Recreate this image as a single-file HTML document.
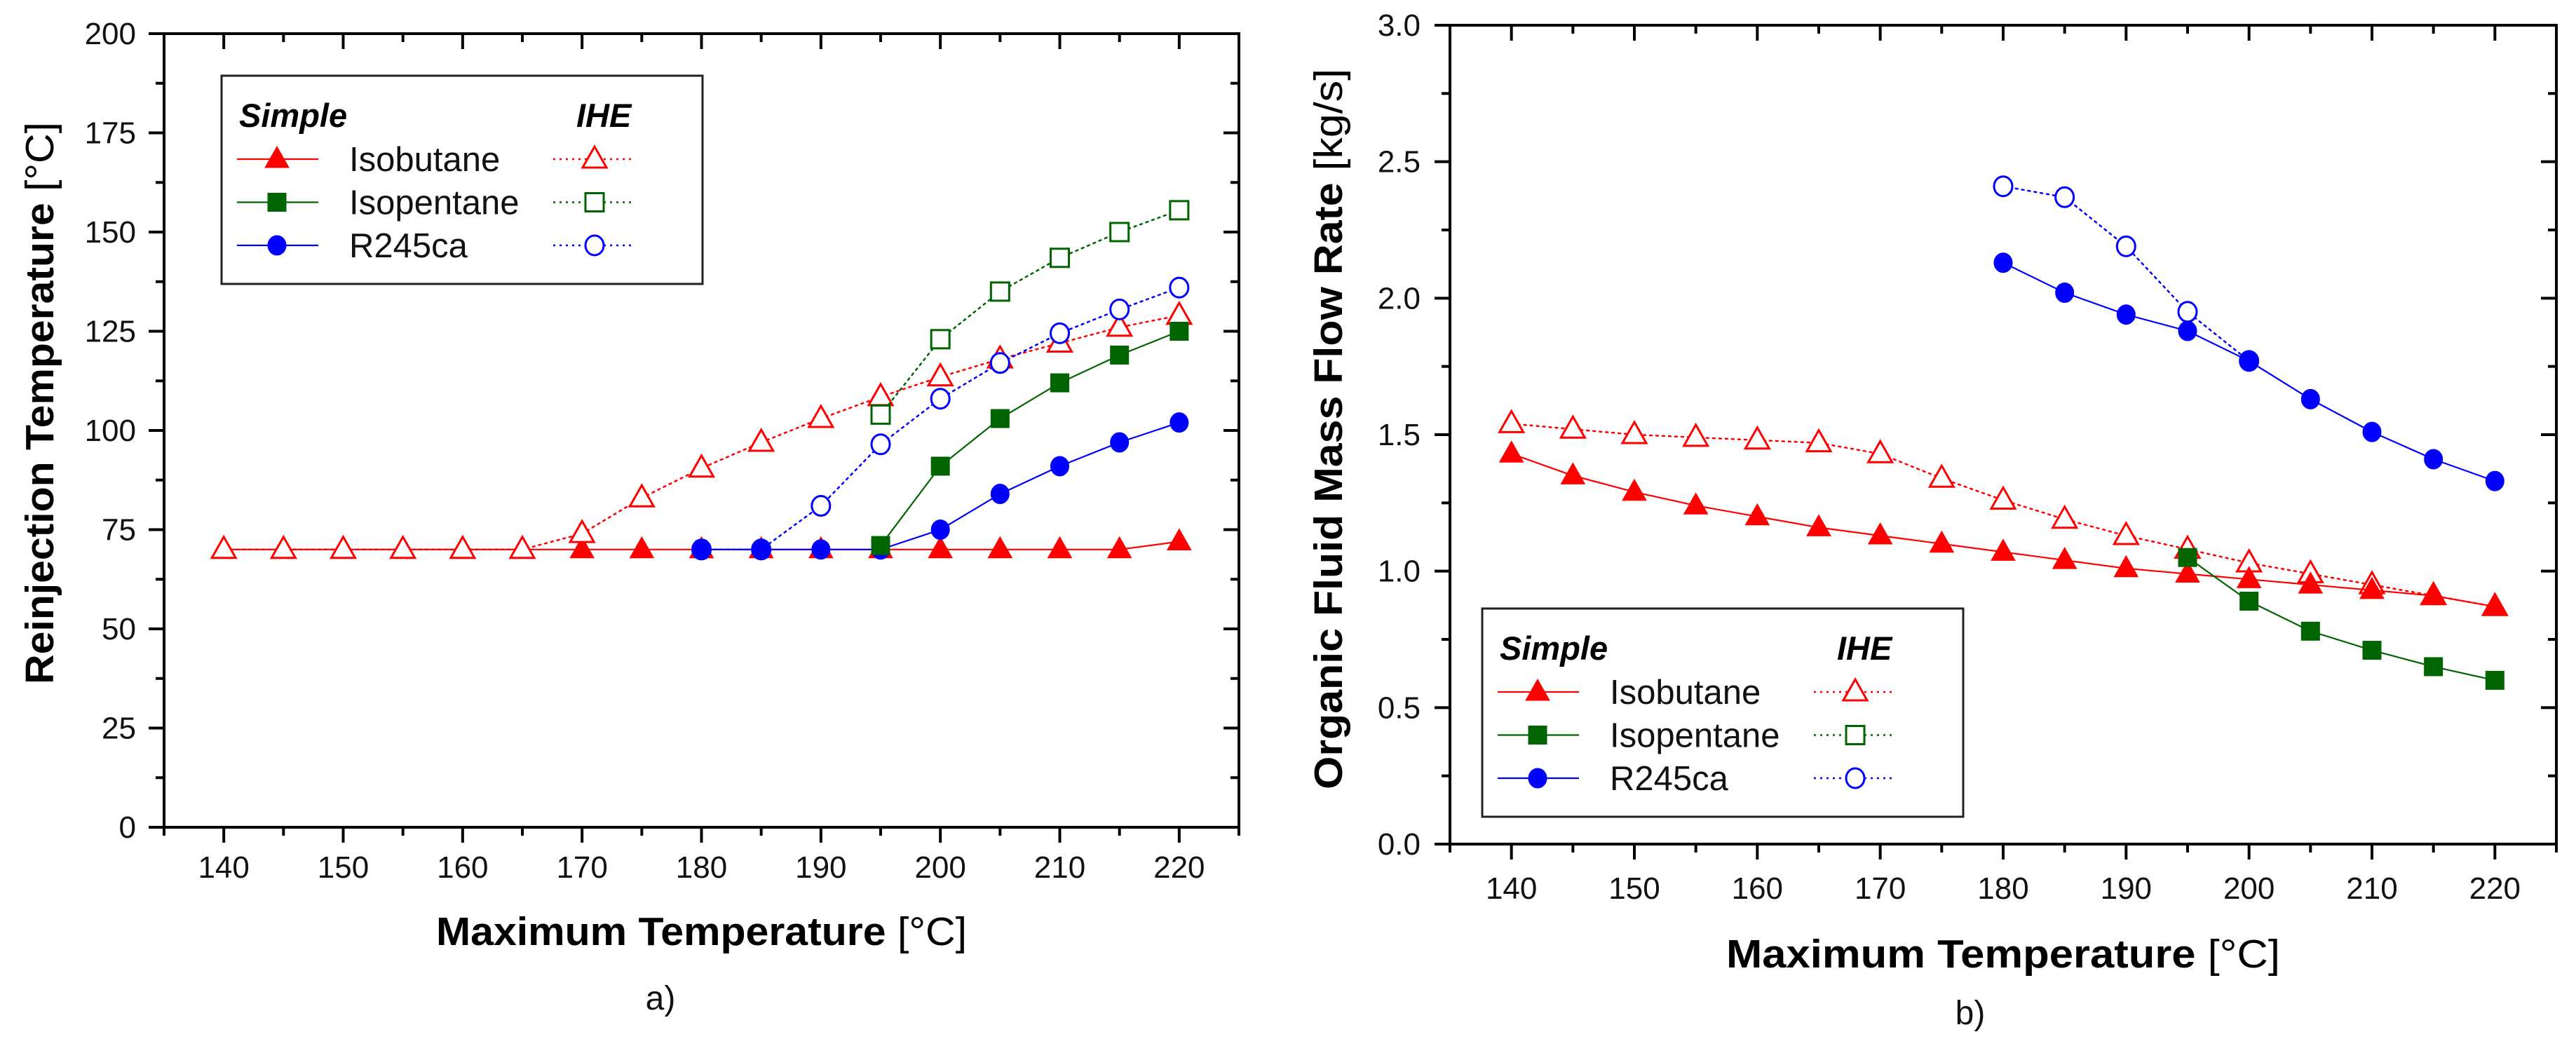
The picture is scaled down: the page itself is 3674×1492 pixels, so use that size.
<!DOCTYPE html>
<html><head><meta charset="utf-8"><style>
html,body{margin:0;padding:0;background:#fff;}
svg{display:block;font-family:"Liberation Sans",Arial,sans-serif;}
</style></head><body>
<svg id="fig" width="3674" height="1492" viewBox="0 0 3674 1492" xmlns="http://www.w3.org/2000/svg"></svg>
<script>
// ---------- data ----------
const xTicks = [140,150,160,170,180,190,200,210,220];
const leftYTicks = [0,25,50,75,100,125,150,175,200];
const rightYTicks = [0.0,0.5,1.0,1.5,2.0,2.5,3.0];
const rightYTickLabels = ["0.0","0.5","1.0","1.5","2.0","2.5","3.0"];

const a_isobutaneSimpleX = [140,145,150,155,160,165,170,175,180,185,190,195,200,205,210,215,220];
const a_isobutaneSimpleY = [70,70,70,70,70,70,70,70,70,70,70,70,70,70,70,70,72];
const a_isobutaneIheX = [140,145,150,155,160,165,170,175,180,185,190,195,200,205,210,215,220];
const a_isobutaneIheY = [70,70,70,70,70,70,74,83,90.5,97,103,108.5,113.5,118,122,126,129];
const a_isopentaneSimpleX = [195,200,205,210,215,220];
const a_isopentaneSimpleY = [71,91,103,112,119,125];
const a_isopentaneIheX = [195,200,205,210,215,220];
const a_isopentaneIheY = [104,123,135,143.5,150,155.5];
const a_r245caSimpleX = [180,185,190,195,200,205,210,215,220];
const a_r245caSimpleY = [70,70,70,70,75,84,91,97,102];
const a_r245caIheX = [180,185,190,195,200,205,210,215,220];
const a_r245caIheY = [70,70,81,96.5,108,117,124.5,130.5,136];

const b_isobutaneSimpleX = [140,145,150,155,160,165,170,175,180,185,190,195,200,205,210,215,220];
const b_isobutaneSimpleY = [1.43,1.35,1.29,1.24,1.20,1.16,1.13,1.10,1.07,1.04,1.01,0.99,0.97,0.95,0.93,0.91,0.87];
const b_isobutaneIheX = [140,145,150,155,160,165,170,175,180,185,190,195,200,205,210,215,220];
const b_isobutaneIheY = [1.54,1.52,1.50,1.49,1.48,1.47,1.43,1.34,1.26,1.19,1.13,1.08,1.03,0.99,0.95,0.91,0.87];
const b_isopentaneSimpleX = [195,200,205,210,215,220];
const b_isopentaneSimpleY = [1.05,0.89,0.78,0.71,0.65,0.60];
const b_r245caSimpleX = [180,185,190,195,200,205,210,215,220];
const b_r245caSimpleY = [2.13,2.02,1.94,1.88,1.77,1.63,1.51,1.41,1.33];
const b_r245caIheX = [180,185,190,195,200];
const b_r245caIheY = [2.41,2.37,2.19,1.95,1.77];

// ---------- helpers ----------
const NS = "http://www.w3.org/2000/svg";
const svg = document.getElementById('fig');
function mk(tag, attrs, parent){
  const e = document.createElementNS(NS, tag);
  for (const k in attrs) e.setAttribute(k, attrs[k]);
  (parent||svg).appendChild(e);
  return e;
}
const RED="#ff0000", GREEN="#006400", BLUE="#0000ff";

function marker(g, shape, cx, cy, color, filled){
  let e;
  const fill = filled ? color : "#fff";
  if (shape==="tri"){
    e = mk('polygon',{points:`${cx},${cy-18} ${cx-17},${cy+12} ${cx+17},${cy+12}`,fill:fill,stroke:color,'stroke-width':filled?1:3},g);
  } else if (shape==="sq"){
    e = mk('rect',{x:cx-13,y:cy-13,width:26,height:26,fill:fill,stroke:color,'stroke-width':filled?1:3},g);
  } else {
    e = mk('ellipse',{cx:cx,cy:cy,rx:13,ry:14,fill:fill,stroke:color,'stroke-width':filled?1:3},g);
  }
  return e;
}

function makeChart(cfg){
  const sx = v => cfg.x0 + (v - cfg.xmin) * (cfg.x1 - cfg.x0) / (cfg.xmax - cfg.xmin);
  const sy = v => cfg.y0 - (v - cfg.ymin) * (cfg.y0 - cfg.y1) / (cfg.ymax - cfg.ymin);
  const g = mk('g',{});
  
  

  cfg.series.forEach(s=>{
    const sg = mk('g',{},g);
    
    
    const pts = s.x.map((xv,i)=>`${sx(xv).toFixed(1)},${sy(s.y[i]).toFixed(1)}`).join(' ');
    const ln = mk('polyline',{points:pts,fill:'none',stroke:s.color,'stroke-width':s.filled?2.2:2.5,'stroke-dasharray':s.filled?'none':'3 6','stroke-linecap':'round'},sg);
    
    
    s.x.forEach((xv,i)=>{
      const m = marker(sg, s.shape, sx(xv), sy(s.y[i]), s.color, s.filled);
      
      
    });
  });

  const fr = mk('rect',{x:cfg.x0,y:cfg.y1,width:cfg.x1-cfg.x0,height:cfg.y0-cfg.y1,fill:'none',stroke:'#000','stroke-width':4},g);
  
  

  for (let v = cfg.xmin; v <= cfg.xmax + 0.001; v += 5){
    const major = (v % 10) === 0;
    const L = major ? 22 : 12;
    const x = sx(v);
    mk('line',{x1:x,y1:cfg.y0,x2:x,y2:cfg.y0+L,stroke:'#000','stroke-width':4},g);
    mk('line',{x1:x,y1:cfg.y1,x2:x,y2:cfg.y1+L,stroke:'#000','stroke-width':4},g);
  }
  xTicks.forEach(v=>{
    const t = mk('text',{x:sx(v),y:cfg.xLabelY,'font-size':44,'text-anchor':'middle',fill:'#111'},g);
    t.textContent = v;
    
    
  });
  const step = cfg.yTicks[1]-cfg.yTicks[0];
  for (let v = cfg.ymin; v <= cfg.ymax + 1e-6; v += step/2){
    const major = Math.abs(Math.round(v/step)*step - v) < 1e-6;
    const L = major ? 22 : 12;
    const y = sy(v);
    mk('line',{x1:cfg.x0-L,y1:y,x2:cfg.x0,y2:y,stroke:'#000','stroke-width':4},g);
    mk('line',{x1:cfg.x1-L,y1:y,x2:cfg.x1,y2:y,stroke:'#000','stroke-width':4},g);
  }
  cfg.yTicks.forEach((v,i)=>{
    const t = mk('text',{x:cfg.yLabelX,y:sy(v)+15,'font-size':44,'text-anchor':'end',fill:'#111'},g);
    t.textContent = cfg.yTickLabels[i];
    
    
  });

  const xt = mk('text',{x:(cfg.x0+cfg.x1)/2,y:cfg.xTitleY,'font-size':57,'text-anchor':'middle',fill:'#000',textLength:cfg.xTitleLen,lengthAdjust:'spacingAndGlyphs'},g);
  xt.innerHTML = '<tspan font-weight="bold">Maximum Temperature </tspan><tspan>[°C]</tspan>';
  
  
  const yt = mk('text',{x:0,y:0,'font-size':57,'text-anchor':'middle',fill:'#000',textLength:cfg.yTitleLen,lengthAdjust:'spacingAndGlyphs',transform:`translate(${cfg.yTitleX},${cfg.yTitleCY}) rotate(-90)`},g);
  yt.innerHTML = `<tspan font-weight="bold">${cfg.yTitleBold}</tspan><tspan>${cfg.yTitleUnit}</tspan>`;
  
  
  const pl = mk('text',{x:cfg.panelX,y:cfg.panelY,'font-size':48,'text-anchor':'middle',fill:'#111'},g);
  pl.textContent = cfg.panel;
  
  

  const lg = mk('g',{},g);
  
  
  const L0x = cfg.legX, L0y = cfg.legY;
  mk('rect',{x:L0x,y:L0y,width:686,height:297,fill:'#fff',stroke:'#222','stroke-width':3},lg);
  const hs = mk('text',{x:L0x+25,y:L0y+73,'font-size':47,'font-weight':'bold','font-style':'italic'},lg);
  hs.textContent='Simple';
  
  
  const hi = mk('text',{x:L0x+506,y:L0y+73,'font-size':47,'font-weight':'bold','font-style':'italic'},lg);
  hi.textContent='IHE';
  
  
  const rows = [["Isobutane","tri",RED],["Isopentane","sq",GREEN],["R245ca","circ",BLUE]];
  rows.forEach((r,i)=>{
    const y = L0y + 119 + i*61.5;
    const re = mk('g',{},lg);
    
    
    mk('line',{x1:L0x+22,y1:y,x2:L0x+138,y2:y,stroke:r[2],'stroke-width':2.2},re);
    marker(re, r[1], L0x+79, y, r[2], true);
    const t = mk('text',{x:L0x+182,y:y+17,'font-size':49,fill:'#111'},re);
    t.textContent = r[0];
    mk('line',{x1:L0x+473,y1:y,x2:L0x+585,y2:y,stroke:r[2],'stroke-width':2.5,'stroke-dasharray':'3 6'},re);
    marker(re, r[1], L0x+532, y, r[2], false);
  });
}

makeChart({
  name:'chart-a-reinjection-temperature', panel:'a)',
  x0:234, x1:1767, y0:1180, y1:48, xmin:135, xmax:225, ymin:0, ymax:200,
  yTicks:leftYTicks, yTickLabels:leftYTicks.map(String),
  xLabelY:1252, yLabelX:194, xTitleY:1348, xTitleLen:757,
  yTitleX:76, yTitleCY:575, yTitleLen:802,
  yTitleBold:'Reinjection Temperature ', yTitleUnit:'[°C]',
  panelX:942, panelY:1440, legX:316, legY:108,
  series:[
    {name:'isobutane-simple', x:a_isobutaneSimpleX, y:a_isobutaneSimpleY, color:RED, shape:'tri', filled:true},
    {name:'isobutane-ihe', x:a_isobutaneIheX, y:a_isobutaneIheY, color:RED, shape:'tri', filled:false},
    {name:'r245ca-ihe', x:a_r245caIheX, y:a_r245caIheY, color:BLUE, shape:'circ', filled:false},
    {name:'isopentane-ihe', x:a_isopentaneIheX, y:a_isopentaneIheY, color:GREEN, shape:'sq', filled:false},
    {name:'r245ca-simple', x:a_r245caSimpleX, y:a_r245caSimpleY, color:BLUE, shape:'circ', filled:true},
    {name:'isopentane-simple', x:a_isopentaneSimpleX, y:a_isopentaneSimpleY, color:GREEN, shape:'sq', filled:true}
  ]
});

makeChart({
  name:'chart-b-mass-flow-rate', panel:'b)',
  x0:2068, x1:3646, y0:1204, y1:36, xmin:135, xmax:225, ymin:0, ymax:3,
  yTicks:rightYTicks, yTickLabels:rightYTickLabels,
  xLabelY:1282, yLabelX:2026, xTitleY:1380, xTitleLen:790,
  yTitleX:1914, yTitleCY:612, yTitleLen:1028,
  yTitleBold:'Organic Fluid Mass Flow Rate ', yTitleUnit:'[kg/s]',
  panelX:2810, panelY:1461, legX:2114, legY:868,
  series:[
    {name:'isobutane-ihe', x:b_isobutaneIheX, y:b_isobutaneIheY, color:RED, shape:'tri', filled:false},
    {name:'isobutane-simple', x:b_isobutaneSimpleX, y:b_isobutaneSimpleY, color:RED, shape:'tri', filled:true},
    {name:'r245ca-ihe', x:b_r245caIheX, y:b_r245caIheY, color:BLUE, shape:'circ', filled:false},
    {name:'r245ca-simple', x:b_r245caSimpleX, y:b_r245caSimpleY, color:BLUE, shape:'circ', filled:true},
    {name:'isopentane-simple', x:b_isopentaneSimpleX, y:b_isopentaneSimpleY, color:GREEN, shape:'sq', filled:true}
  ]
});
</script>
</body></html>
